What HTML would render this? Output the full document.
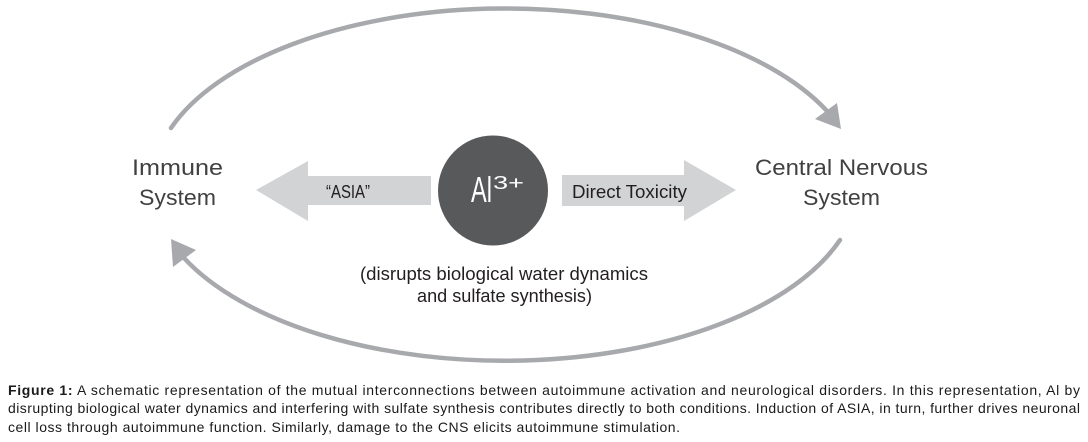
<!DOCTYPE html>
<html>
<head>
<meta charset="utf-8">
<style>
  html,body{margin:0;padding:0;background:#fff;}
  body{width:1088px;height:442px;position:relative;overflow:hidden;}
  svg{position:absolute;left:0;top:0;}
</style>
</head>
<body>
<svg width="1088" height="442" viewBox="0 0 1088 442" xmlns="http://www.w3.org/2000/svg">
  <!-- top arc -->
  <path d="M171,128 A354,177 0 0 1 827,111" fill="none" stroke="#a7a9ac" stroke-width="4.5" stroke-linecap="round"/>
  <polygon points="841,129 815,119 837,103" fill="#a7a9ac"/>
  <!-- bottom arc -->
  <path d="M840,240 A354,178 0 0 1 184,258" fill="none" stroke="#a7a9ac" stroke-width="4.5" stroke-linecap="round"/>
  <polygon points="171,239 173,267 196,250" fill="#a7a9ac"/>

  <!-- thick arrows -->
  <polygon points="256,190 308,161 308,176 431,176 431,205 308,205 308,221" fill="#d1d3d4"/>
  <polygon points="562,175 684,175 684,160 736,190 684,221 684,206 562,206" fill="#d1d3d4"/>

  <!-- circle -->
  <circle cx="493" cy="190.5" r="55" fill="#58595b"/>
  <text x="471" y="202" font-family="Liberation Sans, sans-serif" font-size="36" fill="#fff" textLength="21" lengthAdjust="spacingAndGlyphs">Al</text>
  <text x="493" y="189" font-family="Liberation Sans, sans-serif" font-size="18" fill="#fff" textLength="31" lengthAdjust="spacingAndGlyphs">3+</text>

  <!-- labels -->
  <g font-family="Liberation Sans, sans-serif" fill="#414042">
    <text x="132" y="175" font-size="22" textLength="91" lengthAdjust="spacingAndGlyphs">Immune</text>
    <text x="139" y="205" font-size="22" textLength="77" lengthAdjust="spacingAndGlyphs">System</text>
    <text x="755" y="175" font-size="22" textLength="173" lengthAdjust="spacingAndGlyphs">Central Nervous</text>
    <text x="803" y="205" font-size="22" textLength="77" lengthAdjust="spacingAndGlyphs">System</text>
    <text x="326" y="198" font-size="18" fill="#231f20" textLength="44" lengthAdjust="spacingAndGlyphs">“ASIA”</text>
    <text x="572" y="198" font-size="18" fill="#231f20" textLength="115" lengthAdjust="spacingAndGlyphs">Direct Toxicity</text>
    <text x="360" y="280" font-size="18" fill="#231f20" textLength="288" lengthAdjust="spacingAndGlyphs">(disrupts biological water dynamics</text>
    <text x="417" y="302" font-size="18" fill="#231f20" textLength="175" lengthAdjust="spacingAndGlyphs">and sulfate synthesis)</text>
  </g>

  <!-- caption -->
  <g font-family="Liberation Sans, Arial, sans-serif" font-size="14" fill="#1a1a1a">
    <text x="8" y="395" textLength="1072" lengthAdjust="spacing"><tspan font-weight="bold">Figure 1:</tspan> A schematic representation of the mutual interconnections between autoimmune activation and neurological disorders. In this representation, Al by</text>
    <text x="8" y="413" textLength="1072" lengthAdjust="spacing">disrupting biological water dynamics and interfering with sulfate synthesis contributes directly to both conditions. Induction of ASIA, in turn, further drives neuronal</text>
    <text x="8" y="432" textLength="672" lengthAdjust="spacing">cell loss through autoimmune function. Similarly, damage to the CNS elicits autoimmune stimulation.</text>
  </g>
</svg>
</body>
</html>
